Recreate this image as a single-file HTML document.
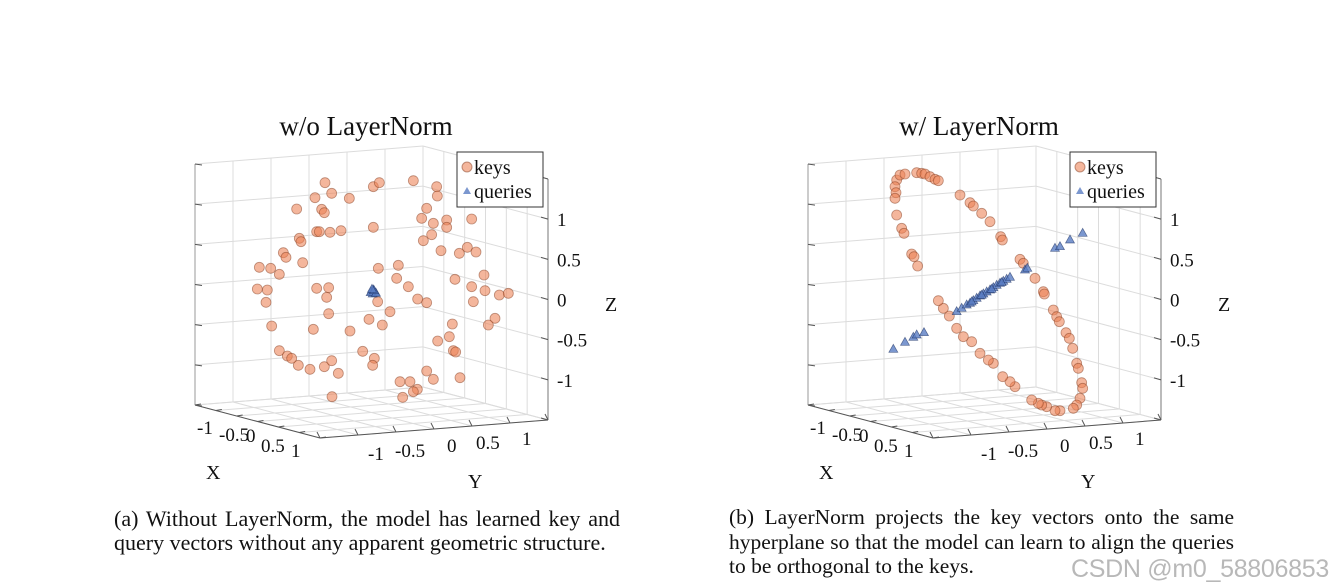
<!DOCTYPE html>
<html><head><meta charset="utf-8"><style>
body{margin:0;background:#fff;width:1340px;height:587px;overflow:hidden;position:relative;font-family:"Liberation Serif",serif;}
.cap{position:absolute;color:#111;text-align:justify;text-align-last:left;}
.wm{position:absolute;left:1071px;top:555px;font-family:"Liberation Sans",sans-serif;font-size:25px;color:#b8b8b8;white-space:nowrap;letter-spacing:-0.3px;}
</style></head><body>
<svg id="chart" width="1340" height="587" style="position:absolute;left:0;top:0"></svg>
<div class="cap" style="left:114px;top:507px;width:506px;font-size:22px;line-height:24px">(a) Without LayerNorm, the model has learned key and query vectors without any apparent geometric structure.</div>
<div class="cap" style="left:729px;top:505px;width:505px;font-size:21.5px;line-height:24.5px">(b) LayerNorm projects the key vectors onto the same hyperplane so that the model can learn to align the queries to be orthogonal to the keys.</div>
<div class="wm">CSDN @m0_58806853</div>
<script>
// view-plane coordinates (projected, view units 0-1200)
const ticks=[-1.5,-1,-0.5,0,0.5,1,1.5];
const tickLabels=["-1","-0.5","0","0.5","1"];
const tickVals=[-1,-0.5,0,0.5,1];
const keysAH=[435,580,598,455,405,508,700,770,772,350,425,433,740,725,760,800,800,875,410,418,450,483,580,358,363,730,755,783,838,862,888,310,318,368,238,272,298,595,655,650,685,825,912,232,262,258,410,446,440,713,740,875,915,880,958,985,446,593,630,567,607,510,400,275,817,945,925,773,808,298,322,335,355,390,433,455,475,548,583,578,820,827,740,760,840,660,690,712,700,668,456];
const keysAV=[128,140,128,160,173,175,122,140,168,207,208,218,205,235,250,240,262,237,275,275,277,272,262,295,305,302,284,332,340,322,336,338,352,368,382,385,403,385,376,415,440,418,405,447,450,487,445,443,472,477,488,440,452,485,465,460,521,485,515,538,555,573,568,558,552,535,555,603,590,632,648,655,676,688,680,662,700,634,655,676,632,636,693,718,713,725,725,748,755,772,770];
const queriesAH=[575,580,585,578,572,588,582,576];
const queriesAV=[455,450,458,462,458,460,452,448];
const keysBH=[320,330,345,380,395,405,420,435,445,315,318,315,320,335,342,365,372,383,510,540,550,575,600,632,637,690,700,735,760,763,790,800,808,828,838,848,860,865,875,878,870,860,850,810,795,770,755,745,725,675,660,638,610,595,570,545,520,500,478,460,445];
const keysBV=[120,105,102,98,100,102,110,118,122,140,158,175,225,265,280,342,350,378,165,188,198,220,245,290,300,358,370,415,455,462,510,530,545,578,595,625,670,685,728,745,775,795,805,812,812,800,795,790,780,740,725,710,670,660,640,605,590,565,528,505,482];
const queriesBH=[500,515,530,540,550,560,570,580,590,600,610,620,630,640,650,660,545,575,605,635,705,712,795,810,840,878,310,345,370,380,402];
const queriesBV=[515,505,495,490,482,475,468,462,456,450,443,436,430,424,418,412,486,466,448,428,390,385,325,320,300,280,628,607,592,585,578];
const svg=document.getElementById('chart');const NS='http://www.w3.org/2000/svg';
function mk(t,a,p){const e=document.createElementNS(NS,t);for(const k in a)e.setAttribute(k,a[k]);(p||svg).appendChild(e);return e;}
function panel(dx,vx,title,kH,kV,qH,qV,name){
 const g=mk('g',{});
 
 
 const P=(X,Y,Z)=>[195+dx+(X+1.5)/3*125+(Y+1.5)/3*228, 405+(X+1.5)/3*33-(Y+1.5)/3*18-(Z+1.5)/3*241];
 const L=(a,b,c)=>{const l=mk('line',{x1:a[0],y1:a[1],x2:b[0],y2:b[1],stroke:c||'#dcdcdc','stroke-width':1},g);return l;};
 ticks.forEach(t=>{
  L(P(-1.5,t,-1.5),P(-1.5,t,1.5));L(P(-1.5,-1.5,t),P(-1.5,1.5,t));
  L(P(t,1.5,-1.5),P(t,1.5,1.5));L(P(-1.5,1.5,t),P(1.5,1.5,t));
  L(P(t,-1.5,-1.5),P(t,1.5,-1.5));L(P(-1.5,t,-1.5),P(1.5,t,-1.5));
 });
 L(P(-1.5,-1.5,-1.5),P(1.5,-1.5,-1.5),'#555');L(P(1.5,-1.5,-1.5),P(1.5,1.5,-1.5),'#555');
 L(P(1.5,1.5,-1.5),P(1.5,1.5,1.5),'#777');L(P(-1.5,-1.5,-1.5),P(-1.5,-1.5,1.5),'#999');
 ticks.forEach(t=>{const a=P(t,-1.5,-1.5);L(a,[a[0]+6,a[1]-1],'#555');const b=P(1.5,t,-1.5);L(b,[b[0]-3,b[1]-6],'#555');const c=P(1.5,1.5,t);L(c,[c[0]-7,c[1]-2],'#555');const d=P(-1.5,-1.5,t);L(d,[d[0]+7,d[1]+1],'#555');});
 const T=(x,y,s,fs,nm,anchor)=>{const e=mk('text',{x:x,y:y,'font-size':fs,'font-family':'Liberation Serif, serif',fill:'#111','text-anchor':anchor||'start'},g);e.textContent=s;return e;};
 tickVals.forEach((v,i)=>{const z=P(1.5,1.5,v);T(z[0]+9,z[1]+7,tickLabels[i],19,'z-tick-label');});
 const xo=[[197,434],[219,441],[246,442],[261,452],[291,457]];
 tickVals.forEach((v,i)=>{T(xo[i][0]+dx,xo[i][1],tickLabels[i],19,'x-tick-label');});
 const yo=[[368,460],[395,457],[447,452],[476,449],[522,445]];
 tickVals.forEach((v,i)=>{T(yo[i][0]+dx,yo[i][1],tickLabels[i],19,'y-tick-label');});
 T(206+dx,479,'X',20,'x-axis-title');T(468+dx,488,'Y',20,'y-axis-title');T(605+dx,311,'Z',20,'z-axis-title');
 T(title[1]+dx,135,title[0],27,'plot-title','middle');
 const sx=h=>vx+h/3, sy=v=>140+v/3;
 kH.forEach((h,i)=>{const c=mk('circle',{cx:sx(h),cy:sy(kV[i]),r:5,fill:'rgba(236,130,85,0.58)',stroke:'rgba(130,55,25,0.5)','stroke-width':0.8},g);
  
  });
 qH.forEach((h,i)=>{const x=sx(h),y=sy(qV[i]);const p=mk('polygon',{points:`${x},${y-5} ${x-4.5},${y+3} ${x+4.5},${y+3}`,fill:'rgba(90,125,195,0.8)',stroke:'rgba(20,40,90,0.6)','stroke-width':0.7},g);
  
  });
 const lg=mk('g',{},g);
 
 
 mk('rect',{x:457+dx,y:152,width:86,height:55,fill:'#fff',stroke:'#333','stroke-width':1},lg);
 mk('circle',{cx:467+dx,cy:167,r:5,fill:'rgba(236,130,85,0.58)',stroke:'rgba(130,55,25,0.5)'},lg);
 mk('polygon',{points:`${467+dx},${187} ${463+dx},${194} ${471+dx},${194}`,fill:'rgba(90,125,195,0.8)'},lg);
 const a=mk('text',{x:474+dx,y:174,'font-size':20,'font-family':'Liberation Serif, serif',fill:'#111'},lg);a.textContent='keys';
 
 
 const b=mk('text',{x:474+dx,y:198,'font-size':20,'font-family':'Liberation Serif, serif',fill:'#111'},lg);b.textContent='queries';
 
 
}
panel(0,180,['w/o LayerNorm',366],keysAH,keysAV,queriesAH,queriesAV,'plot-without-layernorm');
panel(613,790,['w/ LayerNorm',366],keysBH,keysBV,queriesBH,queriesBV,'plot-with-layernorm');
</script>
</body></html>
